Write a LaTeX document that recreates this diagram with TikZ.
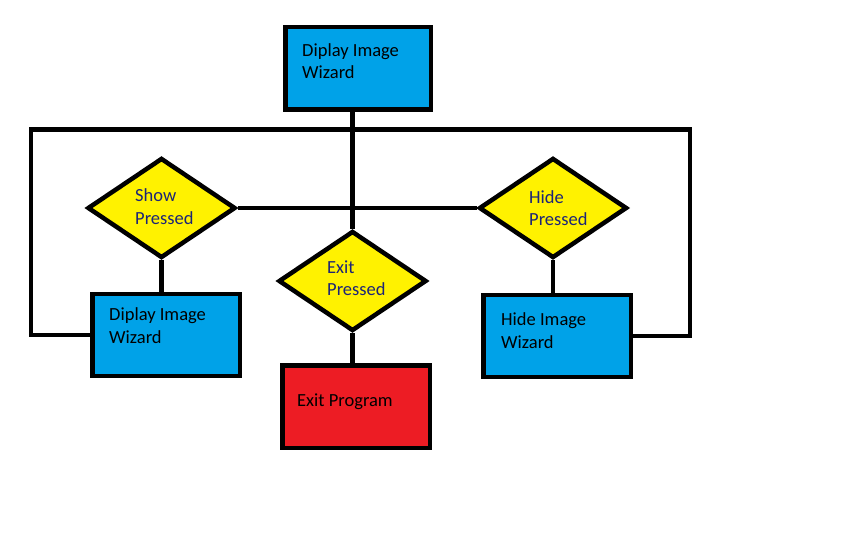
\documentclass[tikz,border=0pt]{standalone}
\usepackage{fontspec}
\setmainfont{Carlito}
\usetikzlibrary{shapes.geometric}
\definecolor{boxblue}{HTML}{00A2E8}
\definecolor{dyellow}{HTML}{FFF200}
\definecolor{xred}{HTML}{ED1C24}
\definecolor{dtext}{RGB}{28,36,120}
\tikzset{
  thick line/.style={line width=4.5pt},
  boxnode/.style={draw, thick line, fill=boxblue, minimum width=147.5pt, minimum height=82pt, inner sep=0pt},
  exitbox/.style={boxnode, fill=xred},
  decnode/.style={draw, thick line, diamond, fill=dyellow, minimum width=148pt, minimum height=100pt, inner sep=0pt},
  lbl/.style={anchor=west, align=left, inner sep=0pt, font=\fontsize{18.5}{22.5}\selectfont},
  dlbl/.style={lbl, text=dtext},
  conn/.style={thick line}
}
\begin{document}
\begin{tikzpicture}[x=1pt,y=-1pt]
\useasboundingbox (0,0) rectangle (864,540);
% shapes
\node[boxnode, minimum width=145.5pt, minimum height=82.5pt] (top) at (358,68.5) {};
\node[decnode] (show) at (161.5,208) {};
\node[decnode] (hide) at (553,208) {};
\node[decnode] (exitd) at (352.5,281) {};
\node[boxnode] (showbox) at (166,335) {};
\node[boxnode] (hidebox) at (557,336) {};
\node[exitbox, minimum height=82.5pt] (exitbox) at (356,406.5) {};
% loop corners
\coordinate (tl) at (31,129.5);
\coordinate (tr) at (690,129.5);
% connectors
\draw[conn] (showbox.west) -| (tl) -- (tr) |- (hidebox.east);
\draw[conn] (exitd.north) -- (exitd.north |- top.south);
\draw[conn] (show.east) -- (hide.west);
\draw[conn] (show.south) -- (show.south |- showbox.north);
\draw[conn] (exitd.south) -- (exitd.south |- exitbox.north);
\draw[conn] (hide.south) -- (hide.south |- hidebox.north);
% labels
\node[lbl] (ttop) at (302,61) {Diplay Image\\Wizard};
\node[lbl] (tshowbox) at (109,325.5) {Diplay Image\\Wizard};
\node[lbl] (thidebox) at (501,330.5) {Hide Image\\Wizard};
\node[lbl] (texit) at (297,402) {Exit Program};
\node[dlbl] (tshow) at (135,206.5) {Show\\Pressed};
\node[dlbl] (texitd) at (327,278) {Exit\\Pressed};
\node[dlbl] (thide) at (529,208) {Hide\\Pressed};
\end{tikzpicture}
\end{document}
